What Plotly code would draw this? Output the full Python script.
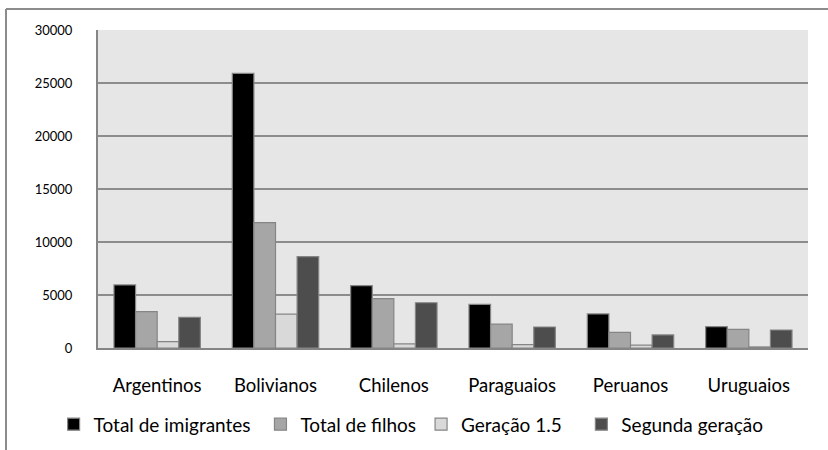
import plotly.graph_objects as go

# Country groups on the x axis
categories = ["Argentinos", "Bolivianos", "Chilenos", "Paraguaios", "Peruanos", "Uruguaios"]

# Series values (people)
total_imigrantes = [5950, 25900, 5880, 4120, 3210, 2010]
total_filhos = [3430, 11820, 4650, 2260, 1480, 1760]
geracao_15 = [600, 3200, 380, 310, 280, 100]
segunda_geracao = [2900, 8620, 4270, 1980, 1230, 1700]

series_names = ["Total de imigrantes", "Total de filhos", "Geração 1.5", "Segunda geração"]
series_colors = ["#000000", "#A6A6A6", "#D9D9D9", "#4D4D4D"]
y_ticks = [0, 5000, 10000, 15000, 20000, 25000, 30000]

# trailing non-breaking spaces widen legend entries a little
legend_pad = [1, 0, 3, 0]

FONT = "Lato, 'Open Sans', sans-serif"
EDGE = "#858585"

fig = go.Figure()
for name, vals, col, pad in zip(series_names,
                                [total_imigrantes, total_filhos, geracao_15, segunda_geracao],
                                series_colors, legend_pad):
    fig.add_trace(go.Bar(
        x=categories, y=vals, name=name + "\u00a0" * pad,
        marker=dict(color=col, line=dict(color=EDGE, width=1.2)),
        hovertemplate=name + ": %{y}<extra>%{x}</extra>",
    ))

W, H = 828, 450
L, R, T, B = 98, 20, 30, 102

fig.update_layout(
    width=W, height=H,
    margin=dict(l=L, r=R, t=T, b=B, autoexpand=False),
    paper_bgcolor="white",
    plot_bgcolor="#E6E6E6",
    barmode="group",
    bargap=0.27,
    bargroupgap=0,
    font=dict(family=FONT, color="#000000"),
    showlegend=True,
    legend=dict(
        orientation="h",
        x=0.441, xanchor="center",
        y=-0.24, yanchor="middle",
        font=dict(size=19, family=FONT),
        itemwidth=30,
        traceorder="normal",
        bgcolor="rgba(0,0,0,0)",
    ),
    xaxis=dict(
        showgrid=False,
        showline=True, linecolor=EDGE, linewidth=2,
        ticks="", tickfont=dict(size=18.5),
        ticklabelstandoff=20,
    ),
    yaxis=dict(
        range=[0, 30000],
        tickvals=y_ticks,
        ticktext=[str(v) for v in y_ticks],
        showgrid=True, gridcolor="#8C8C8C", gridwidth=2,
        zeroline=False,
        showline=True, linecolor=EDGE, linewidth=2,
        ticks="", tickfont=dict(size=13),
        ticklabelstandoff=21,
    ),
)

# Outer chart frame (top and left edges)
pw, ph = W - L - R, H - T - B
fx = (6 - L) / pw
fy = (ph + T - 9) / ph
fig.add_shape(type="line", xref="paper", yref="paper",
              x0=fx, x1=(W + 10 - L) / pw, y0=fy, y1=fy,
              line=dict(color="#8C8C8C", width=2))
fig.add_shape(type="line", xref="paper", yref="paper",
              x0=fx, x1=fx, y0=fy, y1=-(B + 10) / ph,
              line=dict(color="#8C8C8C", width=2))

fig.write_html("out.html")
